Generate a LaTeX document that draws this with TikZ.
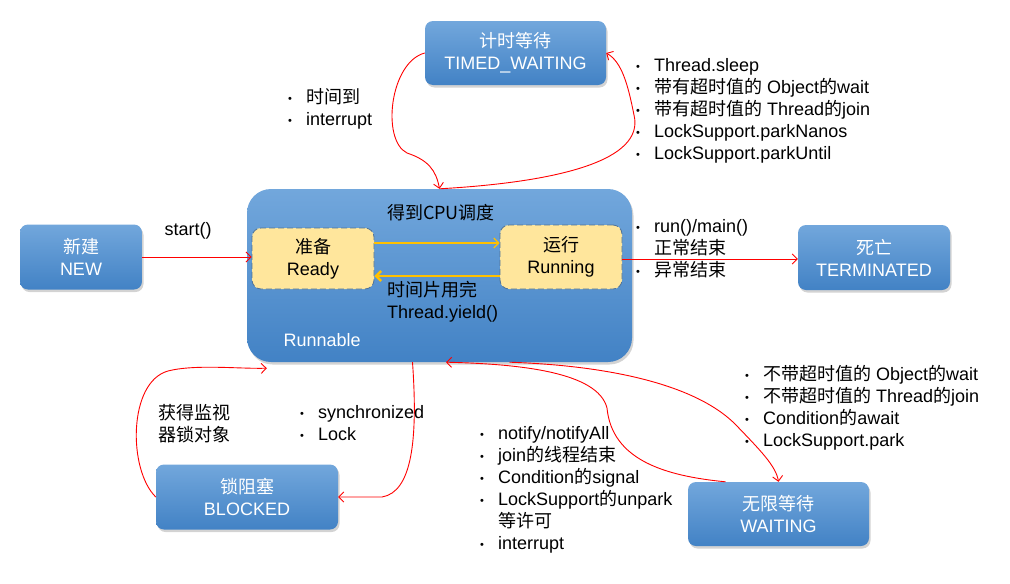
\documentclass[tikz,border=0pt]{standalone}
\usepackage{fontspec}
\setmainfont{Liberation Sans}
\newfontfamily\cjk{Noto Sans CJK SC}
\usepackage{xcolor}
\usetikzlibrary{arrows.meta,shadows}

\definecolor{boxtop}{HTML}{72A7DC}
\definecolor{boxbot}{HTML}{4282C5}
\definecolor{inner}{HTML}{FFE69C}
\definecolor{dashc}{HTML}{4F7298}
\definecolor{gold}{HTML}{FFC000}

\newcommand\zh[1]{{\cjk #1}}
\newcommand\itm{\makebox[18pt][l]{\fontsize{11}{11}\selectfont\raisebox{1pt}{•}}}
\newcommand\noitm{\hspace*{18pt}}

\begin{document}
\begin{tikzpicture}[
  x=1pt, y=-1pt,
  font=\fontsize{18}{22}\selectfont,
  state/.style={rounded corners=8pt, top color=boxtop, bottom color=boxbot,
    text=white, align=center, inner sep=0pt,
    drop shadow={opacity=0.35, shadow xshift=1.5pt, shadow yshift=-2.5pt}},
  phase/.style={rounded corners=9pt, fill=inner, draw=dashc, thick,
    dash pattern=on 6pt off 3pt, align=center, inner sep=0pt},
  arr/.style={-{Straight Barb[length=5pt,width=10pt]}, red, line width=0.9pt},
  cpu/.style={-{Straight Barb[length=5pt,width=10pt]}, gold},
  note/.style={align=left, inner sep=0pt, anchor=north west}
]
\useasboundingbox (0,0) rectangle (1010,584);

% runnable container
\node[state, rounded corners=24pt, minimum width=385pt, minimum height=173pt]
  (runnable) at (439.5,275.5) {};
\node[text=white, anchor=base west] (runlabel) at (280,346) {Runnable};

% states
\node[state, minimum width=122pt, minimum height=65pt] (new) at (81,257)
  {\zh{新建}\\NEW};
\node[state, minimum width=181pt, minimum height=64pt] (timed) at (515.5,53)
  {\zh{计时等待}\\TIMED\_WAITING};
\node[state, minimum width=152pt, minimum height=65pt] (dead) at (874,257.5)
  {\zh{死亡}\\TERMINATED};
\node[state, minimum width=182pt, minimum height=65pt] (blocked) at (247,497)
  {\zh{锁阻塞}\\BLOCKED};
\node[state, minimum width=181pt, minimum height=64pt] (waiting) at (778.5,514)
  {\zh{无限等待}\\WAITING};

% inside runnable
\node[phase, minimum width=122pt, minimum height=61pt] (ready) at (313,258.5)
  {\zh{准备}\\Ready};
\node[phase, minimum width=122pt, minimum height=64pt] (running) at (561,257)
  {\zh{运行}\\Running};

\draw[cpu, line width=1.2pt] (ready.east |- 0,243) -- (running.west |- 0,243);
\draw[cpu, line width=2.4pt] (running.west |- 0,276) -- (ready.east |- 0,276);
\node[anchor=base] (cpulabel) at (441,219) {\zh{得到CPU调度}};
\node[note] (yieldlabel) at (387,281) {\zh{时间片用完}\\Thread.yield()};

% transitions
\draw[arr] (new.east) -- (ready.west |- new.east);
\node[anchor=base] (startlabel) at (188,235) {start()};

\draw[arr] (running.east |- 0,259) -- (dead.west |- 0,259);
\node[note] (endlabel) at (636,219)
  {\itm run()/main()\\\noitm\zh{正常结束}\\\itm\zh{异常结束}};

% timed waiting
\draw[arr] (timed.west) .. controls (390,62) and (381,140) .. (407,153)
  .. controls (428,160) and (436,170) .. (runnable.north);
\draw[arr] (runnable.north) .. controls (560,182) and (645,160) .. (634,115)
  .. controls (628,85) and (622,62) .. (timed.east);
\node[note] (timedback) at (288,88) {\itm\zh{时间到}\\\itm interrupt};
\node[note] (timedin) at (636,58)
  {\itm Thread.sleep\\
   \itm\zh{带有超时值的} Object\zh{的}wait\\
   \itm\zh{带有超时值的} Thread\zh{的}join\\
   \itm LockSupport.parkNanos\\
   \itm LockSupport.parkUntil};

% blocked
\draw[arr] ([xshift=-27pt]runnable.south) .. controls (418,440) and (412,492)
  .. (382,497) -- (blocked.east);
\draw[arr] (blocked.west) .. controls (128,470) and (128,382) .. (168,371)
  .. controls (195,364) and (240,369) .. ([xshift=20pt,yshift=-6pt]runnable.south west);
\node[note] (monitor) at (158,404) {\zh{获得监视}\\\zh{器锁对象}};
\node[note] (blockin) at (300,405) {\itm synchronized\\\itm Lock};

% waiting
\draw[arr] ([xshift=-53pt]waiting.north) .. controls (665,476) and (612,460)
  .. (607,408) .. controls (598,372) and (520,364) .. ([xshift=6.5pt]runnable.south);
\draw[arr] ([xshift=70pt]runnable.south) .. controls (620,366) and (700,388)
  .. (736,425) .. controls (760,450) and (776,466) .. (waiting.north);
\node[note] (waitback) at (480,426)
  {\itm notify/notifyAll\\
   \itm join\zh{的线程结束}\\
   \itm Condition\zh{的}signal\\
   \itm LockSupport\zh{的}unpark\\
   \noitm\zh{等许可}\\
   \itm interrupt};
\node[note] (waitin) at (745,365)
  {\itm\zh{不带超时值的} Object\zh{的}wait\\
   \itm\zh{不带超时值的} Thread\zh{的}join\\
   \itm Condition\zh{的}await\\
   \itm LockSupport.park};
\end{tikzpicture}
\end{document}
